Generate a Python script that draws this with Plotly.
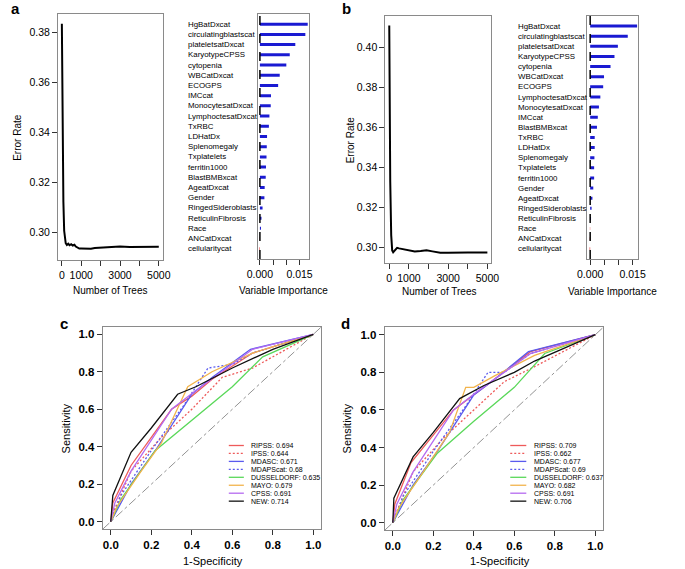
import plotly.graph_objects as go

W, H = 685, 569

# ---------------- data ----------------
trees_a = [1, 20, 50, 80, 120, 150, 200, 260, 330, 400, 480, 560, 650, 720, 800, 900, 1000, 1200, 1500, 1700, 2000, 2500, 3000, 3500, 4000, 4500, 5000]
err_a = [0.3833, 0.362, 0.332, 0.312, 0.3005, 0.2972, 0.2955, 0.2948, 0.2953, 0.2947, 0.2951, 0.2946, 0.2949, 0.2942, 0.2937, 0.2934, 0.2934, 0.2933, 0.2933, 0.2936, 0.2937, 0.2939, 0.2942, 0.2940, 0.2940, 0.2940, 0.2941]

trees_b = [1, 20, 50, 100, 150, 200, 300, 400, 500, 700, 1000, 1300, 1600, 1900, 2200, 2600, 3000, 3500, 4000, 4500, 5000]
err_b = [0.4108, 0.372, 0.333, 0.306, 0.2985, 0.2976, 0.2986, 0.2998, 0.2995, 0.2992, 0.2985, 0.2980, 0.2982, 0.2985, 0.2980, 0.2973, 0.2973, 0.2975, 0.2975, 0.2974, 0.2974]

vars_a = ["HgBatDxcat", "circulatingblastscat", "plateletsatDxcat", "KaryotypeCPSS", "cytopenia",
          "WBCatDxcat", "ECOGPS", "IMCcat", "MonocytesatDxcat", "LymphoctesatDxcat", "TxRBC",
          "LDHatDx", "Splenomegaly", "Txplatelets", "ferritin1000", "BlastBMBxcat", "AgeatDxcat",
          "Gender", "RingedSideroblasts", "ReticulinFibrosis", "Race", "ANCatDxcat", "cellularitycat"]
vimp_a = [0.0181, 0.0172, 0.0134, 0.0113, 0.0100, 0.0075, 0.0069, 0.0042, 0.0041, 0.0036, 0.0034,
          0.0027, 0.0026, 0.0025, 0.0023, 0.0022, 0.0018, 0.0017, 0.0010, 0.0006, 0.0004, -0.0001, -0.0002]

vars_b = ["HgBatDxcat", "circulatingblastscat", "plateletsatDxcat", "KaryotypeCPSS", "cytopenia",
          "WBCatDxcat", "ECOGPS", "LymphoctesatDxcat", "MonocytesatDxcat", "IMCcat", "BlastBMBxcat",
          "TxRBC", "LDHatDx", "Splenomegaly", "Txplatelets", "ferritin1000", "Gender", "AgeatDxcat",
          "RingedSideroblasts", "ReticulinFibrosis", "Race", "ANCatDxcat", "cellularitycat"]
vimp_b = [0.0166, 0.0133, 0.0098, 0.0086, 0.0072, 0.0049, 0.0046, 0.0036, 0.0031, 0.0027, 0.0024,
          0.0016, 0.0016, 0.0015, 0.0014, 0.0014, 0.0011, 0.0008, 0.0005, 0.0003, -0.0001, -0.00015, -0.0002]

models = ["RIPSS", "IPSS", "MDASC", "MDAPScat", "DUSSELDORF", "MAYO", "CPSS", "NEW"]
auc_c = ["0.694", "0.644", "0.671", "0.68", "0.635", "0.679", "0.691", "0.714"]
auc_d = ["0.709", "0.662", "0.677", "0.69", "0.637", "0.682", "0.691", "0.706"]

# panel c ROC curves (1-specificity, sensitivity)
c_RIPSS = ([0, 0.01, 0.10, 0.20, 0.30, 0.40, 0.50, 0.70, 1.0], [0, 0.10, 0.30, 0.45, 0.60, 0.67, 0.76, 0.90, 1.0])
c_IPSS = ([0, 0.02, 0.10, 0.25, 0.40, 0.55, 0.70, 1.0], [0, 0.07, 0.27, 0.45, 0.60, 0.77, 0.82, 1.0])
c_MDASC = ([0, 0.10, 0.22, 0.35, 0.40, 0.50, 0.60, 0.69, 1.0], [0, 0.20, 0.38, 0.60, 0.68, 0.77, 0.85, 0.92, 1.0])
c_MDAPScat = ([0, 0.05, 0.20, 0.36, 0.48, 0.60, 0.70, 1.0], [0, 0.14, 0.38, 0.62, 0.82, 0.84, 0.90, 1.0])
c_DUSSELDORF = ([0, 0.05, 0.22, 0.40, 0.60, 0.75, 1.0], [0, 0.12, 0.38, 0.54, 0.72, 0.88, 1.0])
c_MAYO = ([0, 0.03, 0.15, 0.25, 0.38, 0.50, 0.70, 1.0], [0, 0.08, 0.27, 0.42, 0.72, 0.80, 0.90, 1.0])
c_CPSS = ([0, 0.02, 0.10, 0.30, 0.42, 0.70, 1.0], [0, 0.10, 0.27, 0.60, 0.70, 0.92, 1.0])
c_NEW = ([0, 0.01, 0.10, 0.20, 0.33, 0.42, 0.60, 0.70, 0.80, 1.0], [0, 0.14, 0.37, 0.50, 0.68, 0.72, 0.82, 0.87, 0.92, 1.0])

# panel d ROC curves
d_RIPSS = ([0, 0.01, 0.09, 0.20, 0.30, 0.45, 0.68, 1.0], [0, 0.10, 0.32, 0.47, 0.60, 0.72, 0.91, 1.0])
d_IPSS = ([0, 0.02, 0.10, 0.25, 0.40, 0.55, 0.70, 1.0], [0, 0.06, 0.27, 0.45, 0.60, 0.75, 0.83, 1.0])
d_MDASC = ([0, 0.10, 0.22, 0.35, 0.40, 0.50, 0.67, 1.0], [0, 0.20, 0.38, 0.60, 0.68, 0.76, 0.91, 1.0])
d_MDAPScat = ([0, 0.05, 0.20, 0.36, 0.47, 0.55, 0.68, 1.0], [0, 0.14, 0.38, 0.62, 0.80, 0.80, 0.90, 1.0])
d_DUSSELDORF = ([0, 0.05, 0.22, 0.40, 0.60, 0.75, 1.0], [0, 0.12, 0.37, 0.54, 0.72, 0.90, 1.0])
d_MAYO = ([0, 0.03, 0.15, 0.28, 0.36, 0.40, 0.50, 0.70, 1.0], [0, 0.08, 0.27, 0.48, 0.72, 0.72, 0.78, 0.89, 1.0])
d_CPSS = ([0, 0.02, 0.10, 0.30, 0.42, 0.68, 1.0], [0, 0.10, 0.27, 0.60, 0.70, 0.90, 1.0])
d_NEW = ([0, 0.005, 0.10, 0.20, 0.33, 0.45, 0.60, 0.70, 1.0], [0, 0.13, 0.35, 0.48, 0.66, 0.73, 0.80, 0.86, 1.0])

roc_c = [c_RIPSS, c_IPSS, c_MDASC, c_MDAPScat, c_DUSSELDORF, c_MAYO, c_CPSS, c_NEW]
roc_d = [d_RIPSS, d_IPSS, d_MDASC, d_MDAPScat, d_DUSSELDORF, d_MAYO, d_CPSS, d_NEW]

# ---------------- styles ----------------
FONT = "Liberation Sans, Arial, sans-serif"
colors = ["#ee5a5a", "#ee5a5a", "#5a5aee", "#5a5aee", "#5ad85a", "#f2b44c", "#b56af0", "#111111"]
dashes = ["solid", "2px,2px", "solid", "2px,2px", "solid", "solid", "solid", "solid"]
BOX = "#8a8a8a"


def px(x):
    return x / W


def py(y):
    return 1 - y / H


fig = go.Figure()

# ---- error-rate panels ----
fig.add_trace(go.Scatter(x=trees_a, y=err_a, mode="lines", line=dict(color="black", width=2),
                         xaxis="x", yaxis="y", showlegend=False))
fig.add_trace(go.Scatter(x=trees_b, y=err_b, mode="lines", line=dict(color="black", width=2),
                         xaxis="x3", yaxis="y3", showlegend=False))


# ---- variable importance panels ----
def vimp_traces(values, xa, ya):
    bx, by, rx, ry = [], [], [], []
    for i, v in enumerate(values):
        if v >= 0:
            bx += [0, v, None]
            by += [i, i, None]
        else:
            rx += [0, v, None]
            ry += [i, i, None]
    fig.add_trace(go.Scatter(x=bx, y=by, mode="lines", line=dict(color="#1a1ad2", width=3),
                             xaxis=xa, yaxis=ya, showlegend=False))
    fig.add_trace(go.Scatter(x=rx, y=ry, mode="lines", line=dict(color="#e03030", width=3),
                             xaxis=xa, yaxis=ya, showlegend=False))


vimp_traces(vimp_a, "x2", "y2")
vimp_traces(vimp_b, "x4", "y4")

# ---- ROC panels ----
for xa, ya, rocs in [("x5", "y5", roc_c), ("x6", "y6", roc_d)]:
    for k, (fx, ty) in enumerate(rocs):
        fig.add_trace(go.Scatter(x=fx, y=ty, mode="lines",
                                 line=dict(color=colors[k], width=1.3, dash=dashes[k]),
                                 xaxis=xa, yaxis=ya, showlegend=False))

# ---- axes ----
common = dict(showline=True, mirror=True, linecolor=BOX, linewidth=1, ticks="outside",
              ticklen=5, tickcolor="#333", showgrid=False, zeroline=False,
              tickfont=dict(family=FONT, size=10.5, color="black"))

tree_ticks = [0, 1000, 2000, 3000, 4000, 5000]
tree_text = ["0", "1000", "", "3000", "", "5000"]
vi_ticks = [0, 0.005, 0.010, 0.015]
vi_text = ["0.000", "", "", "0.015"]
roc_ticks = [0, 0.2, 0.4, 0.6, 0.8, 1.0]
roc_font = dict(family=FONT, size=11.5, color="black", weight="bold")

layout = dict(
    width=W, height=H, margin=dict(l=0, r=0, t=0, b=0),
    paper_bgcolor="white", plot_bgcolor="white", showlegend=False,
    font=dict(family=FONT, color="black"),
    xaxis=dict(common, domain=[px(48.3), px(156)], range=[-200, 5200], anchor="y",
               tickvals=tree_ticks, ticktext=tree_text),
    yaxis=dict(common, domain=[py(260), py(14)], range=[0.2888, 0.3872], anchor="x",
               tickvals=[0.30, 0.32, 0.34, 0.36, 0.38], ticktext=["0.30", "0.32", "0.34", "0.36", "0.38"]),
    xaxis2=dict(common, domain=[px(254), px(306)], range=[-0.00074, 0.0184], anchor="y2",
                tickvals=vi_ticks, ticktext=vi_text),
    yaxis2=dict(common, domain=[py(259), py(14)], range=[23, -1], anchor="x2",
                showticklabels=False, ticks=""),
    xaxis3=dict(common, domain=[px(385), px(494)], range=[-200, 5200], anchor="y3",
                tickvals=tree_ticks, ticktext=tree_text),
    yaxis3=dict(common, domain=[py(263), py(16)], range=[0.2922, 0.4155], anchor="x3",
                tickvals=[0.30, 0.32, 0.34, 0.36, 0.38, 0.40],
                ticktext=["0.30", "0.32", "0.34", "0.36", "0.38", "0.40"]),
    xaxis4=dict(common, domain=[px(592.7), px(645.3)], range=[-0.00103, 0.01706], anchor="y4",
                tickvals=vi_ticks, ticktext=vi_text),
    yaxis4=dict(common, domain=[py(259), py(16)], range=[23, -1], anchor="x4",
                showticklabels=False, ticks=""),
    xaxis5=dict(common, domain=[px(94.3), px(319.3)], range=[-0.04, 1.04], anchor="y5",
                tickvals=roc_ticks, tickformat=".1f", tickfont=roc_font),
    yaxis5=dict(common, domain=[py(529.2), py(326.8)], range=[-0.04, 1.04], anchor="x5",
                tickvals=roc_ticks, tickformat=".1f", tickfont=roc_font),
    xaxis6=dict(common, domain=[px(384.4), px(609.3)], range=[-0.04, 1.04], anchor="y6",
                tickvals=roc_ticks, tickformat=".1f", tickfont=roc_font),
    yaxis6=dict(common, domain=[py(530.2), py(327.2)], range=[-0.04, 1.04], anchor="x6",
                tickvals=roc_ticks, tickformat=".1f", tickfont=roc_font),
)
fig.update_layout(**layout)

shapes = []
annotations = []

# zero reference dashed line in importance panels
for xa, ya in [("x2", "y2"), ("x4", "y4")]:
    shapes.append(dict(type="line", xref=xa, yref=ya + " domain", x0=0, x1=0, y0=0, y1=1,
                       line=dict(color="black", width=1.5, dash="dash")))

# diagonal reference in ROC panels
for xa, ya in [("x5", "y5"), ("x6", "y6")]:
    shapes.append(dict(type="line", xref=xa, yref=ya, x0=-0.04, y0=-0.04, x1=1.04, y1=1.04,
                       line=dict(color="#777777", width=0.8, dash="dashdot"), layer="below"))

# variable names
for names, ya, xleft in [(vars_a, "y2", 180), (vars_b, "y4", 519)]:
    for i, n in enumerate(names):
        annotations.append(dict(text=n, xref="paper", yref=ya, x=px(xleft), y=i, xanchor="left",
                                yanchor="middle", showarrow=False,
                                font=dict(family=FONT, size=7.9, color="black")))


def text(t, x, y, size=10, angle=0, bold=False, xanchor="center"):
    annotations.append(dict(text=t, xref="paper", yref="paper", x=px(x), y=py(y), xanchor=xanchor,
                            yanchor="middle", showarrow=False, textangle=angle,
                            font=dict(family=FONT, size=size, color="black",
                                      weight="bold" if bold else "normal")))


# panel letters
text("a", 5, 8, size=15, bold=True)
text("b", 345, 8, size=15, bold=True)
text("c", 55, 323, size=15, bold=True)
text("d", 344, 323, size=15, bold=True)

# axis titles
text("Error Rate", 6, 137, size=10, angle=-90)
text("Number of Trees", 102, 290, size=10)
text("Variable Importance", 280, 290, size=10)
text("Error Rate", 349, 140, size=10, angle=-90)
text("Number of Trees", 440, 291, size=10)
text("Variable Importance", 619, 291, size=10)
text("Sensitivity", 57, 428, size=11, angle=-90)
text("1-Specificity", 208, 561, size=11)
text("Sensitivity", 346, 428, size=11, angle=-90)
text("1-Specificity", 503, 561, size=11)

# ROC legends
for aucs, lx0, lx1, tx in [(auc_c, 224, 239.5, 244.5), (auc_d, 513.5, 530, 536)]:
    for k, m in enumerate(models):
        yy = 445.5 + 7.95 * k
        shapes.append(dict(type="line", xref="paper", yref="paper", x0=px(lx0), x1=px(lx1),
                           y0=py(yy), y1=py(yy),
                           line=dict(color=colors[k], width=1.3, dash=dashes[k])))
        annotations.append(dict(text=f"{m}: {aucs[k]}", xref="paper", yref="paper", x=px(tx),
                                y=py(yy), xanchor="left", yanchor="middle", showarrow=False,
                                font=dict(family=FONT, size=7, color="black")))

fig.update_layout(shapes=shapes, annotations=annotations)
fig.write_html("out.html", config={"displayModeBar": False},
               post_script="document.body.style.margin='0px';")
